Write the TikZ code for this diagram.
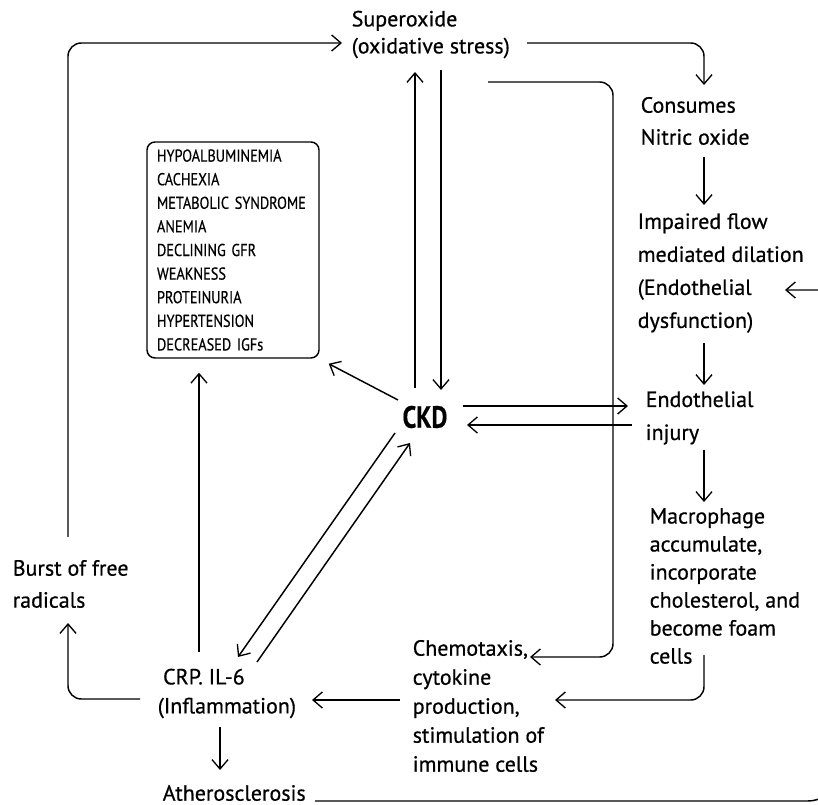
\documentclass[tikz,border=0pt]{standalone}
\usepackage{fontspec}
\setmainfont[FakeBold=0.6]{PT Sans}
\newfontfamily\boxfont[FakeStretch=0.83,FakeBold=0.5]{PT Sans}
\usetikzlibrary{arrows.meta,calc}
\begin{document}
\begin{tikzpicture}[x=0.75pt,y=-0.75pt,line width=1.1pt,
  arr/.style={-{Straight Barb[length=7pt,width=12pt,line width=1pt]}},
  txt/.style={align=left,inner sep=0pt,anchor=west},
  f/.style={font=\fontsize{16.5}{#1}\selectfont},
  ]
\useasboundingbox (0,0) rectangle (818,805);
\clip (0,0) rectangle (818,805);
% nodes
\node[txt,f=20.25] (sup) at (351,34.5) {Superoxide\\(oxidative stress)};
\node[txt,f=24] (cons) at (640,121) {Consumes\\Nitric oxide};
\node[txt,f=24.75] (imp) at (637,273) {Impaired flow\\mediated dilation\\(Endothelial\\dysfunction)};
\node[txt,f=24.75] (endo) at (645,418) {Endothelial\\injury};
\node[txt,f=21] (mac) at (649,586) {Macrophage\\accumulate,\\incorporate\\cholesterol, and\\become foam\\cells};
\node[txt,f=21.75] (chem) at (412,706) {Chemotaxis,\\cytokine\\production,\\stimulation of\\immune cells};
\node[txt,f=21.75] (crp) at (157,693.5) {\hspace*{4pt}CRP. IL-6\\(Inflammation)};
\node[txt,f=24] (burst) at (12,584) {Burst of free\\radicals};
\node[txt,f=20] (ath) at (162,793) {Atherosclerosis};
\node[draw,rounded corners=6pt,minimum width=129pt,minimum height=162pt,
      text width=114pt,align=left,inner xsep=7.5pt,
      font=\boxfont\fontsize{12.9}{17.7}\selectfont] (box) at (233,250)
  {\mbox{HYPOALBUMINEMIA}\\\mbox{CACHEXIA}\\\mbox{METABOLIC SYNDROME}\\\mbox{ANEMIA}\\\mbox{DECLINING GFR}\\\mbox{WEAKNESS}\\\mbox{PROTEINURIA}\\\mbox{HYPERTENSION}\\\mbox{DECREASED IGFs}};
\node[inner sep=0pt] (ckd) at (425,417) {\scalebox{0.8}[1]{\fontsize{23}{23}\selectfont\bfseries CKD}};
% connectors
\draw[arr,rounded corners=10pt] ($(burst.west)+(56,-47)$) |- ($(sup.west)+(-9,8.5)$);
\draw[arr,rounded corners=10pt] ($(sup.west)+(176,8.5)$) -| ($(cons.west)+(64,-36)$);
\draw[arr] ($(cons.west)+(64,36)$) -- ($(imp.west)+(67,-68)$);
\draw[arr] ($(imp.west)+(67,70)$) -- ($(endo.west)+(59,-33)$);
\draw[arr] ($(endo.west)+(59,32)$) -- ($(mac.west)+(55,-84)$);
\draw[arr] ($(ckd)+(38,-11)$) -- ($(endo.west)+(-17,-12)$);
\draw[arr] ($(endo.west)+(-13,7)$) -- ($(ckd)+(42,8)$);
\draw[arr] ($(ckd)+(-10,-29)$) -- ($(sup.west)+(64,37.5)$);
\draw[arr] ($(sup.west)+(90,35.5)$) -- ($(ckd)+(16,-27)$);
\draw[arr,rounded corners=10pt] ($(sup.west)+(137,47.5)$) -| ($(chem.west)+(201,-49)$) -- ($(chem.west)+(118,-49)$);
\draw[arr,rounded corners=10pt] ($(mac.west)+(55,69)$) |- ($(chem.west)+(143,-6)$);
\draw[arr] ($(chem.west)+(-12,-6)$) -- ($(crp.west)+(155,6.5)$);
\draw[arr,rounded corners=10pt] ($(crp.west)+(-17,5.5)$) -| ($(burst.west)+(56,39)$);
\draw[arr] ($(crp.west)+(42,-41.5)$) -- ($(box.south)+(-34,14)$);
\draw[arr] ($(crp.west)+(63,33.5)$) -- ($(ath.west)+(58,-23)$);
\draw[arr] ($(ckd)+(-27,-17)$) -- ($(box.south east)+(9,5)$);
\draw[arr] ($(ckd)+(-30,16)$) -- ($(crp.west)+(81,-36.5)$);
\draw[arr] ($(crp.west)+(100,-31.5)$) -- ($(ckd)+(-15,26)$);
\draw[arr] ($(ath.west)+(153,8)$) -- (808,801) .. controls (820,801) and (832,794) .. (832,780) -- (832,290) -- ($(imp.west)+(148,17)$);
\end{tikzpicture}
\end{document}
